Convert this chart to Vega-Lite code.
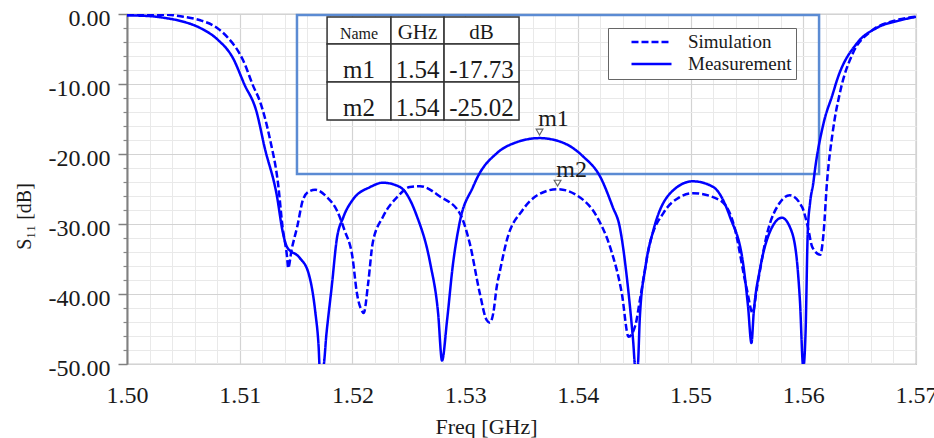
{
  "$schema": "https://vega.github.io/schema/vega-lite/v6.json",
  "width": 789,
  "height": 350,
  "autosize": {"type": "none"},
  "padding": {"left": 127, "top": 14, "right": 18, "bottom": 74},
  "background": "white",
  "config": {
    "view": {"stroke": "#9a9a9a", "strokeWidth": 1.2},
    "font": "Liberation Serif",
    "axis": {"labelFont": "Liberation Serif", "titleFont": "Liberation Serif", "labelFlush": false, "labelOverlap": false, "labelBound": false},
    "legend": {"labelFont": "Liberation Serif"},
    "text": {"font": "Liberation Serif"}
  },
  "datasets": {
    "curves": [
      {"f": 1.5000, "s": -0.2, "series": "Measurement"},
      {"f": 1.5020, "s": -0.3, "series": "Measurement"},
      {"f": 1.5035, "s": -0.6, "series": "Measurement"},
      {"f": 1.5050, "s": -1.1, "series": "Measurement"},
      {"f": 1.5065, "s": -2.0, "series": "Measurement"},
      {"f": 1.5080, "s": -3.6, "series": "Measurement"},
      {"f": 1.5094, "s": -6.3, "series": "Measurement"},
      {"f": 1.5104, "s": -10.0, "series": "Measurement"},
      {"f": 1.5115, "s": -14.0, "series": "Measurement"},
      {"f": 1.5122, "s": -19.0, "series": "Measurement"},
      {"f": 1.5133, "s": -26.0, "series": "Measurement"},
      {"f": 1.5138, "s": -31.0, "series": "Measurement"},
      {"f": 1.5142, "s": -33.3, "series": "Measurement"},
      {"f": 1.5153, "s": -34.8, "series": "Measurement"},
      {"f": 1.5161, "s": -37.0, "series": "Measurement"},
      {"f": 1.5167, "s": -42.5, "series": "Measurement"},
      {"f": 1.5170, "s": -47.5, "series": "Measurement"},
      {"f": 1.5171, "s": -50.5, "series": "Measurement"},
      {"f": 1.5174, "s": -50.5, "series": "Measurement"},
      {"f": 1.5177, "s": -45.6, "series": "Measurement"},
      {"f": 1.5182, "s": -38.4, "series": "Measurement"},
      {"f": 1.5186, "s": -32.3, "series": "Measurement"},
      {"f": 1.5192, "s": -29.0, "series": "Measurement"},
      {"f": 1.5200, "s": -26.6, "series": "Measurement"},
      {"f": 1.5216, "s": -24.7, "series": "Measurement"},
      {"f": 1.5227, "s": -24.1, "series": "Measurement"},
      {"f": 1.5242, "s": -24.7, "series": "Measurement"},
      {"f": 1.5257, "s": -28.8, "series": "Measurement"},
      {"f": 1.5269, "s": -35.6, "series": "Measurement"},
      {"f": 1.5276, "s": -42.7, "series": "Measurement"},
      {"f": 1.52795, "s": -49.5, "series": "Measurement"},
      {"f": 1.5284, "s": -43.7, "series": "Measurement"},
      {"f": 1.5289, "s": -36.0, "series": "Measurement"},
      {"f": 1.5295, "s": -29.9, "series": "Measurement"},
      {"f": 1.5307, "s": -24.7, "series": "Measurement"},
      {"f": 1.5311, "s": -23.3, "series": "Measurement"},
      {"f": 1.5328, "s": -19.9, "series": "Measurement"},
      {"f": 1.5346, "s": -18.3, "series": "Measurement"},
      {"f": 1.5366, "s": -17.73, "series": "Measurement"},
      {"f": 1.5387, "s": -18.4, "series": "Measurement"},
      {"f": 1.5405, "s": -20.4, "series": "Measurement"},
      {"f": 1.5420, "s": -23.3, "series": "Measurement"},
      {"f": 1.5431, "s": -27.6, "series": "Measurement"},
      {"f": 1.5437, "s": -30.3, "series": "Measurement"},
      {"f": 1.5444, "s": -38.4, "series": "Measurement"},
      {"f": 1.5449, "s": -46.6, "series": "Measurement"},
      {"f": 1.5451, "s": -50.5, "series": "Measurement"},
      {"f": 1.5453, "s": -50.5, "series": "Measurement"},
      {"f": 1.5455, "s": -43.3, "series": "Measurement"},
      {"f": 1.5460, "s": -36.1, "series": "Measurement"},
      {"f": 1.5467, "s": -30.9, "series": "Measurement"},
      {"f": 1.5482, "s": -25.6, "series": "Measurement"},
      {"f": 1.5502, "s": -23.9, "series": "Measurement"},
      {"f": 1.5520, "s": -24.7, "series": "Measurement"},
      {"f": 1.5535, "s": -29.0, "series": "Measurement"},
      {"f": 1.5547, "s": -36.1, "series": "Measurement"},
      {"f": 1.5551, "s": -41.8, "series": "Measurement"},
      {"f": 1.5554, "s": -47.0, "series": "Measurement"},
      {"f": 1.5556, "s": -42.7, "series": "Measurement"},
      {"f": 1.5562, "s": -36.1, "series": "Measurement"},
      {"f": 1.5571, "s": -30.9, "series": "Measurement"},
      {"f": 1.5581, "s": -29.1, "series": "Measurement"},
      {"f": 1.5588, "s": -30.4, "series": "Measurement"},
      {"f": 1.5594, "s": -34.7, "series": "Measurement"},
      {"f": 1.5597, "s": -40.9, "series": "Measurement"},
      {"f": 1.5600, "s": -50.5, "series": "Measurement"},
      {"f": 1.5602, "s": -45.6, "series": "Measurement"},
      {"f": 1.5604, "s": -31.0, "series": "Measurement"},
      {"f": 1.5606, "s": -27.0, "series": "Measurement"},
      {"f": 1.5609, "s": -24.0, "series": "Measurement"},
      {"f": 1.5610, "s": -22.7, "series": "Measurement"},
      {"f": 1.5618, "s": -15.6, "series": "Measurement"},
      {"f": 1.5626, "s": -11.5, "series": "Measurement"},
      {"f": 1.5630, "s": -9.4, "series": "Measurement"},
      {"f": 1.5648, "s": -4.1, "series": "Measurement"},
      {"f": 1.5665, "s": -2.0, "series": "Measurement"},
      {"f": 1.5686, "s": -0.9, "series": "Measurement"},
      {"f": 1.5700, "s": -0.4, "series": "Measurement"},
      {"f": 1.5000, "s": -0.1, "series": "Simulation"},
      {"f": 1.5035, "s": -0.1, "series": "Simulation"},
      {"f": 1.5050, "s": -0.4, "series": "Simulation"},
      {"f": 1.5065, "s": -0.9, "series": "Simulation"},
      {"f": 1.5080, "s": -2.0, "series": "Simulation"},
      {"f": 1.5089, "s": -3.3, "series": "Simulation"},
      {"f": 1.5103, "s": -6.6, "series": "Simulation"},
      {"f": 1.5112, "s": -10.3, "series": "Simulation"},
      {"f": 1.5118, "s": -12.5, "series": "Simulation"},
      {"f": 1.5127, "s": -18.0, "series": "Simulation"},
      {"f": 1.5134, "s": -24.2, "series": "Simulation"},
      {"f": 1.5138, "s": -30.4, "series": "Simulation"},
      {"f": 1.5142, "s": -34.7, "series": "Simulation"},
      {"f": 1.5143, "s": -36.3, "series": "Simulation"},
      {"f": 1.5146, "s": -33.7, "series": "Simulation"},
      {"f": 1.5151, "s": -30.4, "series": "Simulation"},
      {"f": 1.5156, "s": -26.6, "series": "Simulation"},
      {"f": 1.5161, "s": -25.4, "series": "Simulation"},
      {"f": 1.5167, "s": -25.1, "series": "Simulation"},
      {"f": 1.5177, "s": -26.1, "series": "Simulation"},
      {"f": 1.5186, "s": -28.0, "series": "Simulation"},
      {"f": 1.5193, "s": -30.9, "series": "Simulation"},
      {"f": 1.5200, "s": -34.7, "series": "Simulation"},
      {"f": 1.5204, "s": -39.9, "series": "Simulation"},
      {"f": 1.5208, "s": -42.3, "series": "Simulation"},
      {"f": 1.5210, "s": -42.7, "series": "Simulation"},
      {"f": 1.5214, "s": -38.4, "series": "Simulation"},
      {"f": 1.5218, "s": -32.7, "series": "Simulation"},
      {"f": 1.5227, "s": -29.0, "series": "Simulation"},
      {"f": 1.5240, "s": -26.1, "series": "Simulation"},
      {"f": 1.5251, "s": -24.7, "series": "Simulation"},
      {"f": 1.5260, "s": -24.6, "series": "Simulation"},
      {"f": 1.5278, "s": -26.1, "series": "Simulation"},
      {"f": 1.5295, "s": -28.4, "series": "Simulation"},
      {"f": 1.5304, "s": -32.7, "series": "Simulation"},
      {"f": 1.5313, "s": -39.9, "series": "Simulation"},
      {"f": 1.5319, "s": -43.7, "series": "Simulation"},
      {"f": 1.5322, "s": -44.1, "series": "Simulation"},
      {"f": 1.5325, "s": -42.7, "series": "Simulation"},
      {"f": 1.5328, "s": -39.0, "series": "Simulation"},
      {"f": 1.5331, "s": -36.6, "series": "Simulation"},
      {"f": 1.5337, "s": -32.3, "series": "Simulation"},
      {"f": 1.5351, "s": -28.0, "series": "Simulation"},
      {"f": 1.5364, "s": -25.9, "series": "Simulation"},
      {"f": 1.5382, "s": -25.02, "series": "Simulation"},
      {"f": 1.5399, "s": -25.9, "series": "Simulation"},
      {"f": 1.5417, "s": -29.0, "series": "Simulation"},
      {"f": 1.5429, "s": -33.5, "series": "Simulation"},
      {"f": 1.5439, "s": -39.9, "series": "Simulation"},
      {"f": 1.5445, "s": -46.1, "series": "Simulation"},
      {"f": 1.5451, "s": -44.5, "series": "Simulation"},
      {"f": 1.5455, "s": -40.9, "series": "Simulation"},
      {"f": 1.5464, "s": -32.7, "series": "Simulation"},
      {"f": 1.5476, "s": -28.4, "series": "Simulation"},
      {"f": 1.5490, "s": -26.2, "series": "Simulation"},
      {"f": 1.5502, "s": -25.6, "series": "Simulation"},
      {"f": 1.5526, "s": -26.6, "series": "Simulation"},
      {"f": 1.5538, "s": -29.9, "series": "Simulation"},
      {"f": 1.5550, "s": -39.4, "series": "Simulation"},
      {"f": 1.5555, "s": -42.7, "series": "Simulation"},
      {"f": 1.5559, "s": -39.0, "series": "Simulation"},
      {"f": 1.5568, "s": -31.3, "series": "Simulation"},
      {"f": 1.5579, "s": -27.0, "series": "Simulation"},
      {"f": 1.5588, "s": -25.9, "series": "Simulation"},
      {"f": 1.5599, "s": -27.6, "series": "Simulation"},
      {"f": 1.5604, "s": -30.4, "series": "Simulation"},
      {"f": 1.5608, "s": -33.3, "series": "Simulation"},
      {"f": 1.5615, "s": -34.4, "series": "Simulation"},
      {"f": 1.5618, "s": -31.3, "series": "Simulation"},
      {"f": 1.5621, "s": -24.1, "series": "Simulation"},
      {"f": 1.5626, "s": -17.0, "series": "Simulation"},
      {"f": 1.5633, "s": -10.9, "series": "Simulation"},
      {"f": 1.5644, "s": -5.6, "series": "Simulation"},
      {"f": 1.5659, "s": -2.6, "series": "Simulation"},
      {"f": 1.5680, "s": -1.0, "series": "Simulation"},
      {"f": 1.5699, "s": -0.4, "series": "Simulation"}
    ],
    "frame": [
      {"x1": 1.51508, "x2": 1.5614, "y1": -0.14, "y2": -22.86}
    ],
    "table": [
      {"row": "head", "label": "Name", "x1": 1.51775, "x2": 1.52342, "y1": -0.43, "y2": -4.29},
      {"row": "head", "label": "GHz", "x1": 1.52342, "x2": 1.52813, "y1": -0.43, "y2": -4.29},
      {"row": "head", "label": "dB", "x1": 1.52813, "x2": 1.53478, "y1": -0.43, "y2": -4.29},
      {"row": "m1", "label": "m1", "x1": 1.51775, "x2": 1.52342, "y1": -4.29, "y2": -9.71},
      {"row": "m1", "label": "1.54", "x1": 1.52342, "x2": 1.52813, "y1": -4.29, "y2": -9.71},
      {"row": "m1", "label": "-17.73", "x1": 1.52813, "x2": 1.53478, "y1": -4.29, "y2": -9.71},
      {"row": "m2", "label": "m2", "x1": 1.51775, "x2": 1.52342, "y1": -9.71, "y2": -15.14},
      {"row": "m2", "label": "1.54", "x1": 1.52342, "x2": 1.52813, "y1": -9.71, "y2": -15.14},
      {"row": "m2", "label": "-25.02", "x1": 1.52813, "x2": 1.53478, "y1": -9.71, "y2": -15.14}
    ],
    "markers": [
      {"name": "m1", "f": 1.5366, "db": -17.73},
      {"name": "m2", "f": 1.5382, "db": -25.02}
    ]
  },
  "resolve": {"axis": {"x": "independent", "y": "independent"}},
  "layer": [
    {
      "data": {"name": "frame"},
      "mark": {"type": "rect", "fill": null, "stroke": "#5b8bd3", "strokeWidth": 2.5},
      "encoding": {
        "x": {"field": "x1", "type": "quantitative",
          "scale": {"domain": [1.5, 1.57], "nice": false, "zero": false},
          "axis": {"orient": "bottom", "values": [1.502,1.504,1.506,1.508,1.512,1.514,1.516,1.518,1.522,1.524,1.526,1.528,1.532,1.534,1.536,1.538,1.542,1.544,1.546,1.548,1.552,1.554,1.556,1.558,1.562,1.564,1.566,1.568],
            "grid": true, "gridColor": "#e9e9e9", "gridWidth": 1, "ticks": false, "labels": false, "domain": false, "title": null}},
        "x2": {"field": "x2"},
        "y": {"field": "y1", "type": "quantitative",
          "scale": {"domain": [-50, 0], "nice": false, "zero": false},
          "axis": {"orient": "left", "values": [-2,-4,-6,-8,-12,-14,-16,-18,-22,-24,-26,-28,-32,-34,-36,-38,-42,-44,-46,-48],
            "grid": true, "gridColor": "#e9e9e9", "gridWidth": 1, "ticks": true, "tickSize": 4, "tickColor": "#888888", "tickWidth": 1.2, "labels": false, "domain": false, "title": null}},
        "y2": {"field": "y2"}
      }
    },
    {
      "data": {"name": "curves"},
      "mark": {"type": "line", "color": "#0000ff", "strokeWidth": 2.5, "interpolate": "monotone", "clip": true},
      "encoding": {
        "x": {"field": "f", "type": "quantitative",
          "scale": {"domain": [1.5, 1.57], "nice": false, "zero": false},
          "axis": {"orient": "bottom", "values": [1.5,1.51,1.52,1.53,1.54,1.55,1.56,1.57], "format": ".2f",
            "grid": true, "gridColor": "#d3d3d3", "gridWidth": 1.2, "ticks": false, "domain": false,
            "labelFont": "Liberation Serif", "labelFontSize": 24, "labelColor": "#1a1a1a", "labelPadding": 19,
            "labelFlush": false, "labelOverlap": false, "labelBound": false,
            "title": "Freq [GHz]", "titleFont": "Liberation Serif", "titleFontSize": 22, "titleFontWeight": "normal", "titleColor": "#1a1a1a",
            "titleX": 359, "titleY": 69, "titleBaseline": "alphabetic", "titleAlign": "center"}},
        "y": {"field": "s", "type": "quantitative",
          "scale": {"domain": [-50, 0], "nice": false, "zero": false},
          "axis": {"orient": "left", "values": [0,-10,-20,-30,-40,-50],
            "labelExpr": "replace(format(datum.value, '.2f'), '\u2212', '-')",
            "grid": true, "gridColor": "#d3d3d3", "gridWidth": 1.2,
            "ticks": true, "tickSize": 9, "tickColor": "#808080", "tickWidth": 1.5,
            "domain": true, "domainColor": "#808080", "domainWidth": 2,
            "labelFont": "Liberation Serif", "labelFontSize": 24, "labelColor": "#1a1a1a", "labelPadding": 8, "labelOffset": 4,
            "labelFlush": false, "labelOverlap": false, "labelBound": false,
            "title": "S\u2081\u2081 [dB]", "titleFont": "Liberation Serif", "titleFontSize": 20, "titleFontWeight": "normal", "titleColor": "#1a1a1a",
            "titleX": -103, "titleY": 202, "titleAngle": -90, "titleAlign": "center", "titleBaseline": "middle"}},
        "strokeDash": {"field": "series", "type": "nominal",
          "scale": {"domain": ["Simulation", "Measurement"], "range": [[7, 3], [1, 0]]},
          "legend": {"title": null, "orient": "none", "legendX": 481, "legendY": 14,
            "strokeColor": "#666666", "fillColor": "white", "padding": 4.5,
            "symbolType": "M-4,0H4", "symbolSize": 100, "symbolStrokeWidth": 2.5, "symbolStrokeColor": "#0000ff", "symbolOffset": 29.5,
            "labelFont": "Liberation Serif", "labelFontSize": 19, "labelColor": "#1a1a1a", "labelOffset": 27, "rowPadding": 2}}
      }
    },
    {
      "data": {"name": "table"},
      "mark": {"type": "rect", "fill": "#b8b8b8", "stroke": "#b8b8b8", "strokeWidth": 1, "xOffset": 3, "yOffset": 3},
      "encoding": {
        "x": {"field": "x1", "type": "quantitative", "scale": {"domain": [1.5, 1.57], "nice": false, "zero": false}, "axis": null},
        "x2": {"field": "x2"},
        "y": {"field": "y1", "type": "quantitative", "scale": {"domain": [-50, 0], "nice": false, "zero": false}, "axis": null},
        "y2": {"field": "y2"}
      }
    },
    {
      "data": {"name": "table"},
      "mark": {"type": "rect", "fill": "white", "stroke": "#333333", "strokeWidth": 1.5},
      "encoding": {
        "x": {"field": "x1", "type": "quantitative", "scale": {"domain": [1.5, 1.57], "nice": false, "zero": false}, "axis": null},
        "x2": {"field": "x2"},
        "y": {"field": "y1", "type": "quantitative", "scale": {"domain": [-50, 0], "nice": false, "zero": false}, "axis": null},
        "y2": {"field": "y2"}
      }
    },
    {
      "data": {"name": "table"},
      "transform": [
        {"filter": "datum.label === 'Name'"},
        {"calculate": "(datum.x1 + datum.x2) / 2", "as": "xc"}
      ],
      "mark": {"type": "text", "font": "Liberation Serif", "fontSize": 16, "color": "#1a1a1a", "baseline": "alphabetic", "align": "center", "dy": -5},
      "encoding": {
        "x": {"field": "xc", "type": "quantitative", "scale": {"domain": [1.5, 1.57], "nice": false, "zero": false}, "axis": null},
        "y": {"field": "y2", "type": "quantitative", "scale": {"domain": [-50, 0], "nice": false, "zero": false}, "axis": null},
        "text": {"field": "label"}
      }
    },
    {
      "data": {"name": "table"},
      "transform": [
        {"filter": "datum.row === 'head' && datum.label !== 'Name'"},
        {"calculate": "(datum.x1 + datum.x2) / 2", "as": "xc"}
      ],
      "mark": {"type": "text", "font": "Liberation Serif", "fontSize": 21, "color": "#1a1a1a", "baseline": "alphabetic", "align": "center", "dy": -5},
      "encoding": {
        "x": {"field": "xc", "type": "quantitative", "scale": {"domain": [1.5, 1.57], "nice": false, "zero": false}, "axis": null},
        "y": {"field": "y2", "type": "quantitative", "scale": {"domain": [-50, 0], "nice": false, "zero": false}, "axis": null},
        "text": {"field": "label"}
      }
    },
    {
      "data": {"name": "table"},
      "transform": [
        {"filter": "datum.row !== 'head'"},
        {"calculate": "(datum.x1 + datum.x2) / 2", "as": "xc"}
      ],
      "mark": {"type": "text", "font": "Liberation Serif", "fontSize": 25, "color": "#1a1a1a", "baseline": "alphabetic", "align": "center", "dy": -4},
      "encoding": {
        "x": {"field": "xc", "type": "quantitative", "scale": {"domain": [1.5, 1.57], "nice": false, "zero": false}, "axis": null},
        "y": {"field": "y2", "type": "quantitative", "scale": {"domain": [-50, 0], "nice": false, "zero": false}, "axis": null},
        "text": {"field": "label"}
      }
    },
    {
      "data": {"name": "markers"},
      "mark": {"type": "point", "shape": "triangle-down", "size": 45, "filled": false, "fill": "white", "stroke": "#666666", "strokeWidth": 1.2, "opacity": 1, "yOffset": -6},
      "encoding": {
        "x": {"field": "f", "type": "quantitative", "scale": {"domain": [1.5, 1.57], "nice": false, "zero": false}, "axis": null},
        "y": {"field": "db", "type": "quantitative", "scale": {"domain": [-50, 0], "nice": false, "zero": false}, "axis": null}
      }
    },
    {
      "data": {"name": "markers"},
      "mark": {"type": "text", "font": "Liberation Serif", "fontSize": 24, "color": "#1a1a1a", "baseline": "middle", "align": "center", "dx": 14, "dy": -19},
      "encoding": {
        "x": {"field": "f", "type": "quantitative", "scale": {"domain": [1.5, 1.57], "nice": false, "zero": false}, "axis": null},
        "y": {"field": "db", "type": "quantitative", "scale": {"domain": [-50, 0], "nice": false, "zero": false}, "axis": null},
        "text": {"field": "name"}
      }
    }
  ]
}
